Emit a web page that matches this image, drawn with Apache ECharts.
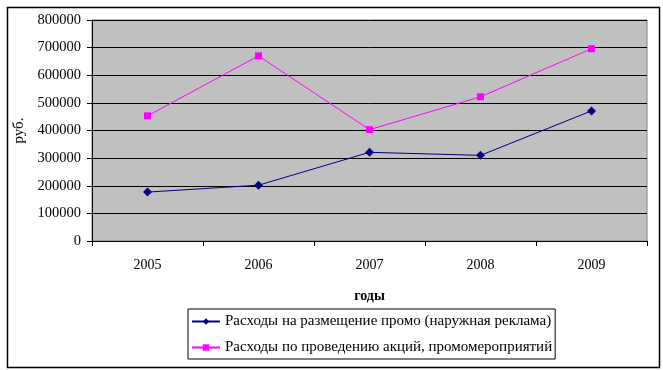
<!DOCTYPE html>
<html>
<head>
<meta charset="utf-8">
<script src="https://cdn.jsdelivr.net/npm/echarts@6/dist/echarts.min.js"></script>
<style>html,body{margin:0;padding:0;background:#fff}#c{width:663px;height:370px}</style>
</head>
<body>
<div id="c"></div>
<script>
const categories = ['2005', '2006', '2007', '2008', '2009'];
const seriesNames = [
  'Расходы на размещение промо (наружная реклама)',
  'Расходы по проведению акций, промомероприятий'
];
const outdoorValues = [177000, 202000, 321000, 310000, 471000];
const promoValues = [453000, 670000, 403000, 522000, 696000];
const yTicks = [0, 100000, 200000, 300000, 400000, 500000, 600000, 700000, 800000];

const font = '"Liberation Serif", "Times New Roman", serif';
const chart = echarts.init(document.getElementById('c'), null, {renderer: 'canvas'});
chart.setOption({
  animation: false,
  backgroundColor: '#ffffff',
  textStyle: {fontFamily: font, color: '#000'},
  graphic: [{
    type: 'rect', left: 5, top: 5, z: -1,
    shape: {width: 652, height: 360},
    style: {fill: 'none', stroke: '#000', lineWidth: 1.5}
  }],
  grid: {
    left: 92, top: 20, right: 16, bottom: 129,
    show: true, backgroundColor: '#c0c0c0', borderColor: '#808080', borderWidth: 1
  },
  legend: {
    orient: 'vertical', left: 188, top: 309,
    padding: [5, 3, 4, 3],
    borderColor: '#000', borderWidth: 1,
    backgroundColor: '#fff',
    itemWidth: 28, itemHeight: 8, itemGap: 11,
    textStyle: {fontFamily: font, fontSize: 15, color: '#000'},
    data: seriesNames
  },
  xAxis: {
    type: 'category', data: categories, boundaryGap: true,
    name: 'годы', nameLocation: 'middle', nameGap: 48,
    nameTextStyle: {fontFamily: font, fontSize: 14, fontWeight: 'bold', color: '#000'},
    axisLine: {lineStyle: {color: '#000', width: 1}},
    axisTick: {show: true, length: 5, inside: false, alignWithLabel: false, lineStyle: {color: '#000'}},
    axisLabel: {fontFamily: font, fontSize: 14, color: '#000', margin: 17},
    splitLine: {show: false}
  },
  yAxis: {
    type: 'value', min: 0, max: yTicks[yTicks.length - 1], interval: yTicks[1] - yTicks[0],
    name: 'руб.', nameLocation: 'middle', nameGap: 62, nameRotate: 90,
    nameTextStyle: {fontFamily: font, fontSize: 15, color: '#000'},
    axisLine: {show: true, lineStyle: {color: '#000', width: 1}},
    axisTick: {show: true, length: 5, lineStyle: {color: '#000'}},
    axisLabel: {fontFamily: font, fontSize: 14.5, color: '#000', margin: 11,
      formatter: function (v) { return String(v); }},
    splitLine: {show: true, lineStyle: {color: '#000', width: 1}}
  },
  series: [
    {
      name: seriesNames[0], type: 'line', data: outdoorValues,
      symbol: 'diamond', symbolSize: 9,
      lineStyle: {color: '#000080', width: 1},
      itemStyle: {color: '#000080'}
    },
    {
      name: seriesNames[1], type: 'line', data: promoValues,
      symbol: 'rect', symbolSize: 7,
      lineStyle: {color: '#ff00ff', width: 1},
      itemStyle: {color: '#ff00ff'}
    }
  ]
});
</script>
</body>
</html>
